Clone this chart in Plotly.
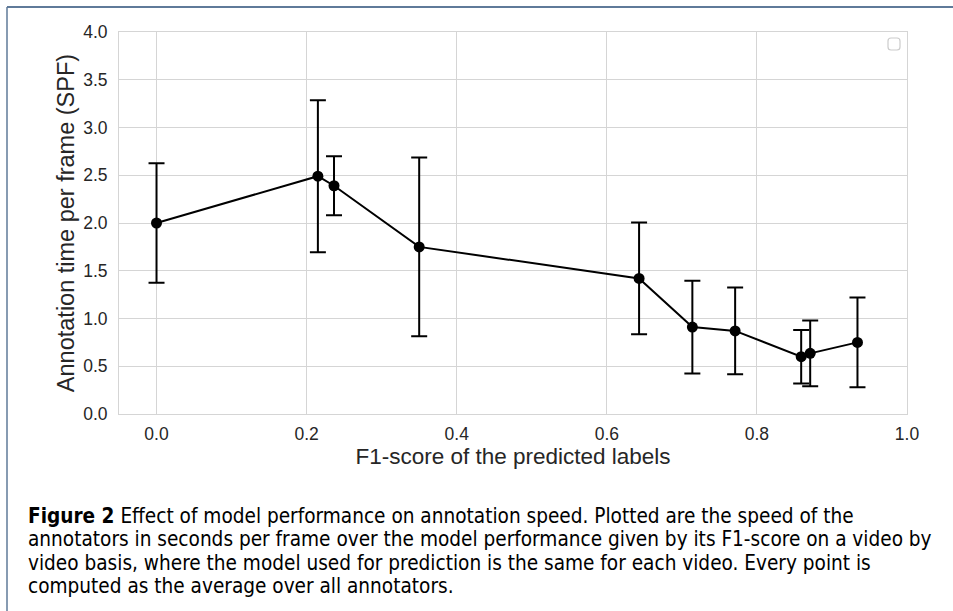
import plotly.graph_objects as go

f1_scores = [0.0, 0.215, 0.2365, 0.35, 0.643, 0.714, 0.771, 0.859, 0.871, 0.934]
spf_mean = [2.0, 2.49, 2.39, 1.75, 1.42, 0.91, 0.87, 0.60, 0.635, 0.75]
spf_std = [0.625, 0.795, 0.31, 0.935, 0.585, 0.485, 0.455, 0.28, 0.345, 0.47]

x_ticks = [0.0, 0.2, 0.4, 0.6, 0.8, 1.0]
y_ticks = [0.0, 0.5, 1.0, 1.5, 2.0, 2.5, 3.0, 3.5, 4.0]

caption_lines = [
    "<b>Figure 2</b> Effect of model performance on annotation speed. Plotted are the speed of the",
    "annotators in seconds per frame over the model performance given by its F1-score on a video by",
    "video basis, where the model used for prediction is the same for each video. Every point is",
    "computed as the average over all annotators.",
]

W, H = 953, 611
L, R, T, B = 119, 907, 32, 414

def px(x):
    return (x - L) / (R - L)

def py(y):
    return (B - y) / (B - T)

fig = go.Figure()
fig.add_trace(go.Scatter(
    x=f1_scores, y=spf_mean,
    mode="lines+markers",
    line=dict(color="black", width=2),
    marker=dict(color="black", size=11),
    error_y=dict(type="data", array=spf_std, visible=True, color="black", thickness=2, width=8),
    showlegend=False,
))

grid = "#d5d5d5"
txt = "#262626"
fig.update_layout(
    width=W, height=H,
    margin=dict(l=L, r=W - R, t=T, b=H - B),
    paper_bgcolor="white", plot_bgcolor="white",
    font=dict(family="Liberation Sans, Arial, sans-serif", color=txt),
    xaxis=dict(
        range=[-0.05, 1.0], tickvals=x_ticks, tickformat=".1f",
        showgrid=True, gridcolor=grid, gridwidth=1,
        zeroline=False, showline=True, linecolor=grid, linewidth=1, mirror=True,
        ticks="outside", ticklen=4, tickcolor="rgba(0,0,0,0)",
        tickfont=dict(size=17.5, color=txt),
        title=dict(text="F1-score of the predicted labels", font=dict(size=22.5, color=txt), standoff=4),
    ),
    yaxis=dict(
        range=[0, 4.0], tickvals=y_ticks, tickformat=".1f",
        showgrid=True, gridcolor=grid, gridwidth=1,
        zeroline=False, showline=True, linecolor=grid, linewidth=1, mirror=True,
        ticks="outside", ticklen=7, tickcolor="rgba(0,0,0,0)",
        tickfont=dict(size=17.5, color=txt),
        title=dict(text="Annotation time per frame (SPF)", font=dict(size=23.5, color=txt), standoff=1),
    ),
)

# empty legend box (top right), rounded corners
x0, x1, y0, y1 = px(888), px(900), py(50), py(38)
rx, ry = px(891) - px(888), py(38) - py(41)
path = (f"M {x0+rx},{y1} L {x1-rx},{y1} Q {x1},{y1} {x1},{y1-ry} "
        f"L {x1},{y0+ry} Q {x1},{y0} {x1-rx},{y0} L {x0+rx},{y0} "
        f"Q {x0},{y0} {x0},{y0+ry} L {x0},{y1-ry} Q {x0},{y1} {x0+rx},{y1} Z")
fig.add_shape(type="path", xref="paper", yref="paper", path=path,
              line=dict(color="#cccccc", width=1.2), fillcolor="white")

# document frame lines
frame = "#5f7a99"
fig.add_shape(type="line", xref="paper", yref="paper",
              x0=px(7), x1=px(960), y0=py(7), y1=py(7),
              line=dict(color=frame, width=2))
fig.add_shape(type="line", xref="paper", yref="paper",
              x0=px(7), x1=px(7), y0=py(7), y1=py(620),
              line=dict(color=frame, width=1.5))

for i, line in enumerate(caption_lines):
    fig.add_annotation(
        text=line, xref="paper", yref="paper",
        x=px(26), y=py(516 + i * 23.3),
        xanchor="left", yanchor="middle", showarrow=False,
        font=dict(family="DejaVu Sans Condensed, Liberation Sans Narrow, sans-serif", size=20.6, color="black"),
        align="left",
    )

fig.write_html("out.html", config={"displayModeBar": False},
               post_script="document.body.style.margin='0';document.body.style.overflow='hidden';")
